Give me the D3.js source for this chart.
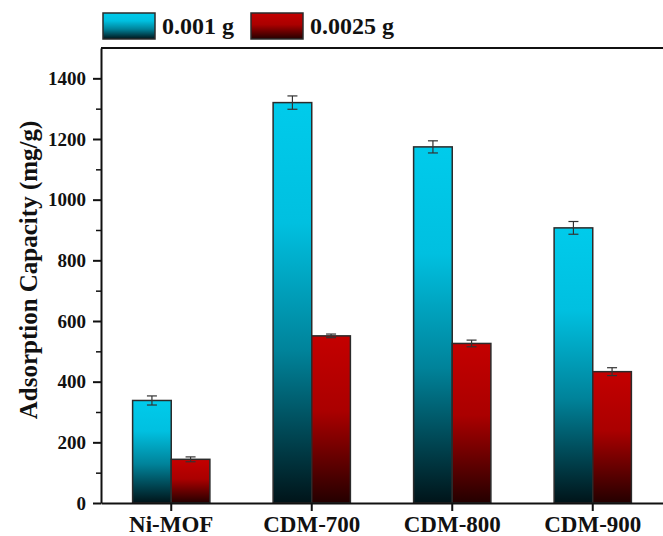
<!DOCTYPE html>
<html>
<head>
<meta charset="utf-8">
<script src="https://cdn.jsdelivr.net/npm/d3@7"></script>
<style>
  body { margin: 0; background: white; overflow: hidden; }
  svg { display: block; }
  svg text { font-family: "Liberation Serif", "Times New Roman", serif; font-weight: bold; fill: #111; }
</style>
</head>
<body>
<div id="viz-container"></div>
<script>
// data
let categories = ["Ni-MOF", "CDM-700", "CDM-800", "CDM-900"];
let seriesNames = ["0.001 g", "0.0025 g"];
let lowDose = [338, 1320, 1174, 907];
let lowDoseErr = [15, 22, 20, 21];
let highDose = [144, 551, 526, 433];
let highDoseErr = [8, 6, 11, 13];
let yTicks = [0, 200, 400, 600, 800, 1000, 1200, 1400];

let w = 663;
let h = 536;
let plotLeft = 101, plotRight = 663, plotTop = 48, plotBottom = 503;

let viz = d3.select("#viz-container")
  .append("svg")
    .attr("width", w)
    .attr("height", h)
    .style("background-color", "white");

// gradients for the two series
let defs = viz.append("defs");
function makeGradient(id, stops) {
  let g = defs.append("linearGradient")
    .attr("id", id)
    .attr("x1", 0).attr("y1", 0).attr("x2", 0).attr("y2", 1);
  stops.forEach(function (s) {
    g.append("stop").attr("offset", s[0]).attr("stop-color", s[1]);
  });
}
makeGradient("gradCyan", [["0%", "#00cbeb"], ["30%", "#00c0e0"], ["62%", "#00839a"], ["100%", "#001419"]]);
makeGradient("gradRed", [["0%", "#c40000"], ["45%", "#aa0000"], ["100%", "#240000"]]);
let fills = ["url(#gradCyan)", "url(#gradRed)"];

let x = d3.scaleBand()
  .domain(categories)
  .range([plotLeft, plotRight])
  .paddingInner(0.45)
  .paddingOuter(0.225);

let xSub = d3.scaleBand()
  .domain([0, 1])
  .range([0, x.bandwidth()]);

let y = d3.scaleLinear()
  .domain([0, 1500])
  .range([plotBottom, plotTop]);

// rows for the bars
let rows = [];
categories.forEach(function (c, i) {
  rows.push({ cat: c, s: 0, v: lowDose[i], e: lowDoseErr[i] });
  rows.push({ cat: c, s: 1, v: highDose[i], e: highDoseErr[i] });
});

let bars = viz.selectAll(".bar").data(rows).enter()
  .append("g")
    .attr("class", "bar");

bars.append("rect")
  .attr("x", d => x(d.cat) + xSub(d.s))
  .attr("y", d => y(d.v))
  .attr("width", xSub.bandwidth())
  .attr("height", d => plotBottom - y(d.v))
  .attr("fill", d => fills[d.s])
  .attr("stroke", "#2b2b2b")
  .attr("stroke-width", 1.5);

// error bars
let cx = d => x(d.cat) + xSub(d.s) + xSub.bandwidth() / 2;
bars.append("line")
  .attr("x1", cx).attr("x2", cx)
  .attr("y1", d => y(d.v + d.e)).attr("y2", d => y(d.v - d.e))
  .attr("stroke", "#333").attr("stroke-width", 1.2);
bars.append("line")
  .attr("x1", d => cx(d) - 5).attr("x2", d => cx(d) + 5)
  .attr("y1", d => y(d.v + d.e)).attr("y2", d => y(d.v + d.e))
  .attr("stroke", "#333").attr("stroke-width", 1.2);
bars.append("line")
  .attr("x1", d => cx(d) - 5).attr("x2", d => cx(d) + 5)
  .attr("y1", d => y(d.v - d.e)).attr("y2", d => y(d.v - d.e))
  .attr("stroke", "#333").attr("stroke-width", 1.2);

// y axis with minor ticks
let yMinor = viz.append("g")
  .attr("transform", "translate(" + plotLeft + ",0)")
  .call(d3.axisLeft(y).tickValues(d3.range(100, 1500, 200)).tickSize(5).tickFormat(""));
yMinor.select(".domain").remove();
yMinor.selectAll("line").attr("stroke", "#111").attr("stroke-width", 1.5);

let yAxis = viz.append("g")
  .attr("transform", "translate(" + plotLeft + ",0)")
  .call(d3.axisLeft(y).tickValues(yTicks).tickFormat(d3.format("d")).tickSize(8).tickPadding(7).tickSizeOuter(0));
yAxis.selectAll("text").style("font-size", "19px");
yAxis.selectAll("line").attr("stroke", "#111").attr("stroke-width", 2);
yAxis.select(".domain").attr("stroke", "#111").attr("stroke-width", 2);

let xAxis = viz.append("g")
  .attr("transform", "translate(0," + plotBottom + ")")
  .call(d3.axisBottom(x).tickSize(8).tickPadding(5).tickSizeOuter(0));
xAxis.selectAll("text").style("font-size", "23px");
xAxis.selectAll("line").attr("stroke", "#111").attr("stroke-width", 2);
xAxis.select(".domain").attr("stroke", "#111").attr("stroke-width", 2);

// top frame line
viz.append("line")
  .attr("x1", plotLeft).attr("x2", plotRight)
  .attr("y1", plotTop).attr("y2", plotTop)
  .attr("stroke", "#111").attr("stroke-width", 2);

// y axis title
viz.append("text")
  .attr("transform", "translate(37,270) rotate(-90)")
  .attr("text-anchor", "middle")
  .style("font-size", "25px")
  .text("Adsorption Capacity (mg/g)");

// legend
let legendX = [103, 251];
let legend = viz.selectAll(".legend").data(seriesNames).enter()
  .append("g")
    .attr("class", "legend")
    .attr("transform", (d, i) => "translate(" + legendX[i] + ",13)");
legend.append("rect")
  .attr("width", 52).attr("height", 26)
  .attr("fill", (d, i) => fills[i])
  .attr("stroke", "#2b2b2b").attr("stroke-width", 1.5);
legend.append("text")
  .attr("x", 59).attr("y", 21)
  .style("font-size", "24px")
  .text(d => d);
</script>
</body>
</html>
